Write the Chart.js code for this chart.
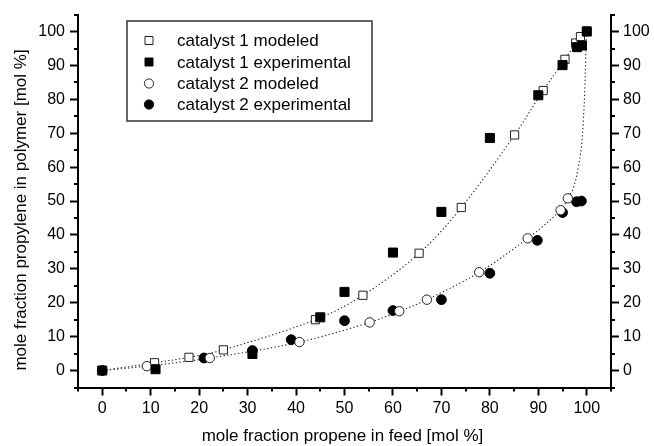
<!DOCTYPE html>
<html>
<head>
<meta charset="utf-8">
<script src="https://cdn.jsdelivr.net/npm/chart.js@4/dist/chart.umd.min.js"></script>
<style>
  html, body { margin: 0; padding: 0; background: #fff; }
  canvas { display: block; }
</style>
</head>
<body>
<canvas id="c" width="654" height="446"></canvas>
<script>
// ---- data ----
const c1ModX = [10.8, 17.9, 25, 44, 53.8, 65.4, 74.1, 85.1, 91, 95.5, 97.7, 98.7, 100];
const c1ModY = [2.3, 3.9, 6.1, 15.0, 22.2, 34.6, 48.1, 69.5, 82.6, 91.8, 96.6, 98.5, 100.2];

const c1ExpX = [0, 11, 31, 45, 50, 60, 70, 80, 90, 95, 98, 99, 100];
const c1ExpY = [0, 0.4, 4.9, 15.7, 23.2, 34.8, 46.8, 68.6, 81.2, 90.1, 95.4, 95.9, 100];

const c2ModX = [9.2, 22.2, 40.7, 55.2, 61.3, 67, 77.8, 87.8, 94.6, 96.1];
const c2ModY = [1.3, 3.7, 8.4, 14.2, 17.5, 20.9, 29, 39, 47.3, 50.8];

const c2ExpX = [0, 21, 31, 39, 50, 60, 70, 80, 89.8, 95, 97.9, 98.9];
const c2ExpY = [0, 3.7, 5.9, 9.1, 14.7, 17.7, 20.9, 28.7, 38.4, 46.6, 49.8, 50];

// dotted fitted curves
const curve1X = [0, 10.8, 17.9, 25, 44, 53.8, 65.4, 74.1, 85.1, 91, 95.5, 97.7, 98.7, 100];
const curve1Y = [0, 2.3, 3.9, 6.1, 15.0, 22.2, 34.6, 48.1, 69.5, 82.6, 91.8, 96.6, 98.5, 100];
const curve2X = [0, 9.2, 22.2, 40.7, 55.2, 61.3, 67, 77.8, 87.8, 94.6, 96.1, 97.2, 98.2, 98.9, 99.3, 99.6, 99.8, 100];
const curve2Y = [0, 1.3, 3.7, 8.4, 14.2, 17.5, 20.9, 29, 39, 47.3, 50.8, 53.7, 59.6, 66, 74, 83.1, 92.9, 100];

const xTicks = [0, 10, 20, 30, 40, 50, 60, 70, 80, 90, 100];
const yTicks = [0, 10, 20, 30, 40, 50, 60, 70, 80, 90, 100];
const minorTicks = [-5, 5, 15, 25, 35, 45, 55, 65, 75, 85, 95, 105];

const seriesLabels = ['catalyst 1 modeled', 'catalyst 1 experimental', 'catalyst 2 modeled', 'catalyst 2 experimental'];
const xTitle = 'mole fraction propene in feed [mol %]';
const yTitle = 'mole fraction propylene in polymer [mol %]';

const pts = (xs, ys) => xs.map((x, i) => ({x: x, y: ys[i]}));
const FONT = "'Liberation Sans', Arial, sans-serif";

const markerStyles = [
  {pointStyle: 'rect', pointRadius: 5.8, pointBackgroundColor: '#fff', pointBorderColor: '#222', pointBorderWidth: 1},
  {pointStyle: 'rect', pointRadius: 6.4, pointBackgroundColor: '#000', pointBorderColor: '#000', pointBorderWidth: 1},
  {pointStyle: 'circle', pointRadius: 4.7, pointBackgroundColor: '#fff', pointBorderColor: '#222', pointBorderWidth: 1},
  {pointStyle: 'circle', pointRadius: 4.9, pointBackgroundColor: '#000', pointBorderColor: '#000', pointBorderWidth: 1}
];

const scatterSet = (i, data, order) => Object.assign({
  label: seriesLabels[i], data: data, showLine: false, order: order, yAxisID: 'y'
}, markerStyles[i]);

const curveSet = (data) => ({
  label: 'fit', data: data, showLine: true, pointRadius: 0, borderColor: '#222',
  borderWidth: 1.1, borderDash: [1.3, 2.4], tension: 0.35, order: 10, yAxisID: 'y'
});

const extras = {
  id: 'extras',
  afterDraw(chart) {
    const ctx = chart.ctx;
    const xs = chart.scales.x, ys = chart.scales.y;
    const a = chart.chartArea;
    ctx.save();
    // minor ticks
    ctx.strokeStyle = '#000';
    ctx.lineWidth = 2;
    ctx.beginPath();
    minorTicks.forEach(v => {
      const px = Math.round(xs.getPixelForValue(v));
      ctx.moveTo(px, a.bottom); ctx.lineTo(px, a.bottom + 4);
      const py = Math.round(ys.getPixelForValue(v));
      ctx.moveTo(a.left, py); ctx.lineTo(a.left - 4, py);
      ctx.moveTo(a.right, py); ctx.lineTo(a.right + 4, py);
    });
    ctx.stroke();

    // legend
    ctx.lineWidth = 1.5;
    ctx.strokeStyle = '#333';
    ctx.strokeRect(127, 21, 245, 100);
    const rows = [40.5, 62, 83.5, 104.5];
    const mx = 149;
    ctx.font = '17px ' + FONT;
    ctx.textBaseline = 'middle';
    ctx.textAlign = 'left';
    rows.forEach((ry, i) => {
      const m = markerStyles[i];
      ctx.beginPath();
      if (m.pointStyle === 'rect') {
        const s = 4;
        ctx.rect(mx - s, ry - s, 2 * s, 2 * s);
      } else {
        ctx.arc(mx, ry, 4.6, 0, Math.PI * 2);
      }
      ctx.fillStyle = m.pointBackgroundColor;
      ctx.fill();
      ctx.lineWidth = 1;
      ctx.strokeStyle = m.pointBorderColor;
      ctx.stroke();
      ctx.fillStyle = '#000';
      ctx.fillText(seriesLabels[i], 177, ry + 1);
    });

    // axis titles
    ctx.font = '17px ' + FONT;
    ctx.fillStyle = '#000';
    ctx.textAlign = 'center';
    ctx.textBaseline = 'middle';
    ctx.fillText(xTitle, (a.left + a.right) / 2 - 2, 436);
    ctx.translate(21, 210);
    ctx.rotate(-Math.PI / 2);
    ctx.fillText(yTitle, 0, 0);
    ctx.restore();
  }
};

const axisCommon = (pos) => ({
  type: 'linear',
  position: pos,
  min: -5, max: 105,
  grid: {display: true, drawOnChartArea: false, drawTicks: true, tickLength: 8, tickWidth: 2, color: '#000'},
  border: {display: true, width: 2, color: '#000'},
  ticks: {color: '#000', font: {family: FONT, size: 16}, padding: 5, maxRotation: 0, autoSkip: false}
});

const xAxis = Object.assign(axisCommon('bottom'), {
  afterBuildTicks: s => { s.ticks = xTicks.map(v => ({value: v})); },
  afterFit: s => { s.height = 58.5; }
});
xAxis.ticks.padding = 3;
const yAxis = Object.assign(axisCommon('left'), {
  afterBuildTicks: s => { s.ticks = yTicks.map(v => ({value: v})); },
  afterFit: s => { s.width = 78; }
});
yAxis.ticks.padding = 5;
const y2Axis = Object.assign(axisCommon('right'), {
  afterBuildTicks: s => { s.ticks = yTicks.map(v => ({value: v})); },
  afterFit: s => { s.width = 43; }
});
y2Axis.ticks.padding = 4;

new Chart(document.getElementById('c'), {
  type: 'scatter',
  data: {
    datasets: [
      scatterSet(0, pts(c1ModX, c1ModY), 3),
      scatterSet(1, pts(c1ExpX, c1ExpY), 1),
      scatterSet(2, pts(c2ModX, c2ModY), 2),
      scatterSet(3, pts(c2ExpX, c2ExpY), 4),
      curveSet(pts(curve1X, curve1Y)),
      curveSet(pts(curve2X, curve2Y))
    ]
  },
  options: {
    responsive: false,
    animation: false,
    devicePixelRatio: 1,
    layout: {padding: {top: 12, left: 0, right: 0, bottom: 0}},
    plugins: {legend: {display: false}, tooltip: {enabled: false}},
    scales: {x: xAxis, y: yAxis, y2: y2Axis}
  },
  plugins: [extras]
});
</script>
</body>
</html>
